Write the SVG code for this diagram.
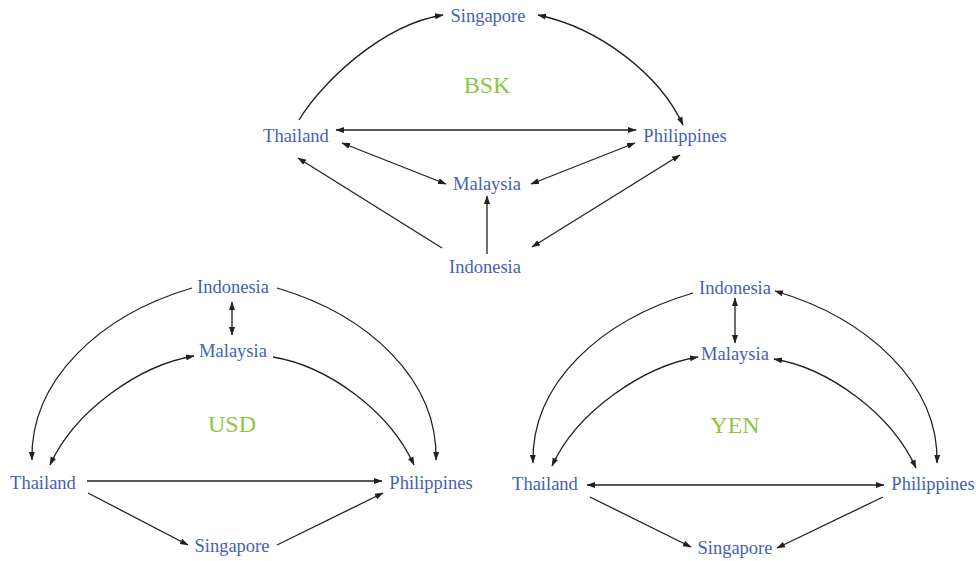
<svg xmlns="http://www.w3.org/2000/svg" width="976" height="561" viewBox="0 0 976 561">
<style>
.lbl{font-family:"Liberation Serif","Times New Roman",serif;font-size:18.5px;fill:#4561b2;text-anchor:middle}
.cur{font-family:"Liberation Serif","Times New Roman",serif;font-size:24px;fill:#8cc63f;text-anchor:middle}
.e{fill:none;stroke:#231f20;stroke-width:1.3}
.one{marker-end:url(#ah)}
.two{marker-start:url(#ah);marker-end:url(#ah)}
</style>
<defs>
<marker id="ah" markerUnits="userSpaceOnUse" markerWidth="9" markerHeight="7" refX="8" refY="3.5" orient="auto-start-reverse" viewBox="0 0 9 7">
<path d="M0,0.5 L8.5,3.5 L0,6.5 z" fill="#231f20"/>
</marker>
</defs>
<rect width="976" height="561" fill="#ffffff"/>
<g id="connectors">
<!-- BSK -->
<path class="e one" d="M299,120 C320,85 380,25 443,15"/>
<path class="e two" d="M538,15 C600,28 660,75 683,125"/>
<path class="e two" d="M336,130 L636,130"/>
<path class="e two" d="M342,143 L446,184"/>
<path class="e two" d="M635,143 L531,184"/>
<path class="e one" d="M442,248 L298,158"/>
<path class="e one" d="M487,254 L487,196"/>
<path class="e two" d="M532,247 L680,155"/>
<!-- USD -->
<path class="e one" d="M192,288 C100,315 30,380 32,460"/>
<path class="e two" d="M232,302 L232,335"/>
<path class="e two" d="M194,356 C140,365 75,410 50,465"/>
<path class="e one" d="M277,288 C369,315 438,380 436,460"/>
<path class="e one" d="M273,357 C327,366 389,410 414,465"/>
<path class="e one" d="M87,481 L382,481"/>
<path class="e one" d="M88,493 L188,545"/>
<path class="e one" d="M277,545 L383,493"/>
<!-- YEN -->
<path class="e one" d="M693,293 C601,320 531,383 533,463"/>
<path class="e two" d="M735,298 L735,343"/>
<path class="e two" d="M698,357 C644,366 577,411 552,466"/>
<path class="e two" d="M775,291 C867,318 939,383 937,463"/>
<path class="e two" d="M774,359 C828,368 891,413 916,468"/>
<path class="e two" d="M587,485 L884,485"/>
<path class="e one" d="M590,497 L691,547"/>
<path class="e one" d="M883,497 L777,548"/>
</g>
<g id="bsk-label"><text class="cur" x="487" y="93">BSK</text></g>
<g id="bsk-singapore"><text class="lbl" x="488" y="22">Singapore</text></g>
<g id="bsk-thailand"><text class="lbl" x="296" y="142">Thailand</text></g>
<g id="bsk-philippines"><text class="lbl" x="685" y="142">Philippines</text></g>
<g id="bsk-malaysia"><text class="lbl" x="487" y="190">Malaysia</text></g>
<g id="bsk-indonesia"><text class="lbl" x="485" y="273">Indonesia</text></g>
<g id="usd-label"><text class="cur" x="232" y="432">USD</text></g>
<g id="usd-indonesia"><text class="lbl" x="233" y="293">Indonesia</text></g>
<g id="usd-malaysia"><text class="lbl" x="233" y="357">Malaysia</text></g>
<g id="usd-thailand"><text class="lbl" x="43" y="489">Thailand</text></g>
<g id="usd-philippines"><text class="lbl" x="431" y="489">Philippines</text></g>
<g id="usd-singapore"><text class="lbl" x="232" y="552">Singapore</text></g>
<g id="yen-label"><text class="cur" x="735" y="433">YEN</text></g>
<g id="yen-indonesia"><text class="lbl" x="735" y="294">Indonesia</text></g>
<g id="yen-malaysia"><text class="lbl" x="735" y="360">Malaysia</text></g>
<g id="yen-thailand"><text class="lbl" x="545" y="490">Thailand</text></g>
<g id="yen-philippines"><text class="lbl" x="933" y="490">Philippines</text></g>
<g id="yen-singapore"><text class="lbl" x="735" y="554">Singapore</text></g>
</svg>
